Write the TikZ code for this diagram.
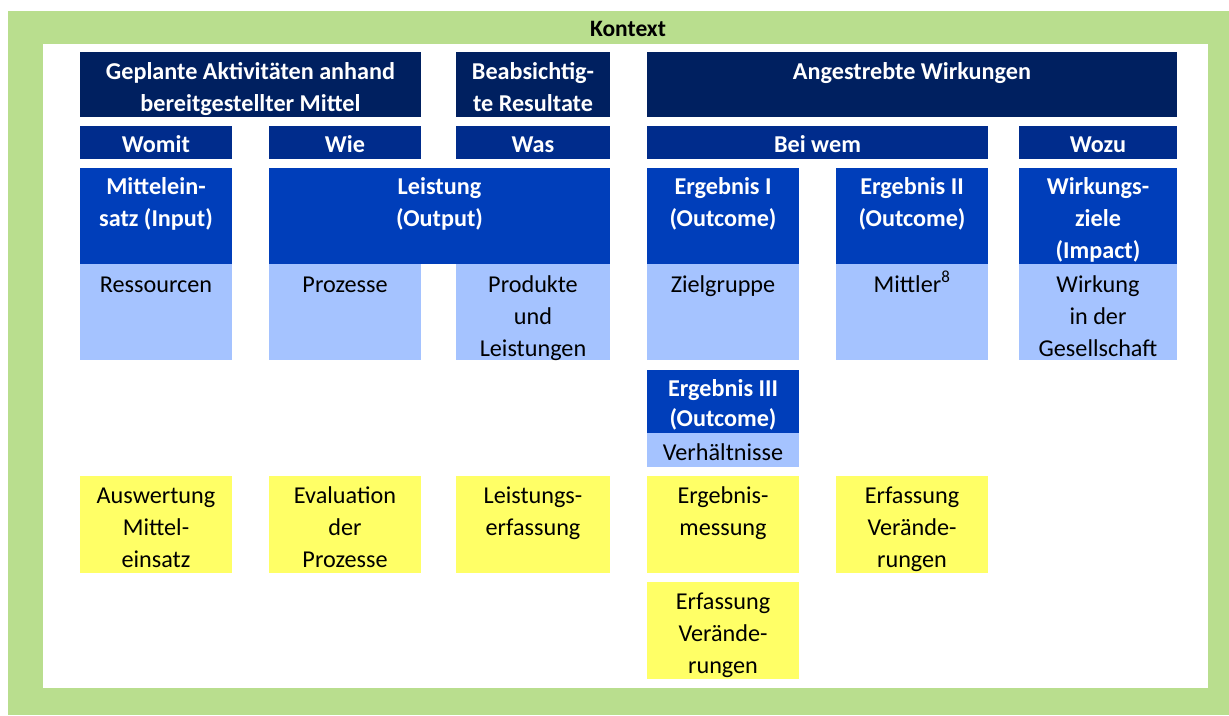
\documentclass[tikz,border=0pt]{standalone}
\usepackage{fontspec}
\setmainfont{Carlito}
\usepackage{tikz}
\usetikzlibrary{positioning}
\definecolor{kontext}{HTML}{B9DE8E}
\definecolor{navy}{HTML}{002060}
\definecolor{midblue}{HTML}{002C8C}
\definecolor{royal}{HTML}{003EBA}
\definecolor{pale}{HTML}{A5C3FF}
\definecolor{lemon}{HTML}{FFFF66}

\begin{document}
\begin{tikzpicture}[x=1pt, y=-1pt,
  cell/.style={inner sep=0pt, outer sep=0pt, anchor=north west},
  head/.style={cell, fill=navy, minimum height=65pt},
  ask/.style={cell, fill=midblue, minimum height=33pt},
  stage/.style={cell, fill=royal, minimum height=96pt},
  field/.style={cell, fill=pale, minimum height=96pt},
  check/.style={cell, fill=lemon, minimum height=97pt},
  txt/.style={inner sep=0pt, anchor=base, font=\fontsize{24.2}{32}\selectfont,
    execute at begin node={\begin{minipage}[t]{340pt}\centering\leavevmode},
    execute at end node={\end{minipage}}},
  wtxt/.style={txt, text=white, font=\fontsize{24.2}{32}\selectfont\bfseries}]
\useasboundingbox (0,0) rectangle (1229,715);
% Rahmen
\fill[kontext] (8,11) rectangle (1229,715);
\fill[white] (43,44) rectangle (1208,688);
\node[txt, font=\fontsize{23.5}{32}\selectfont\bfseries] (kontext) at (628,36) {Kontext};

% obere Reihe
\node[head, minimum width=341pt] (plan) at (80,52) {};
\node[head, minimum width=154pt] (resultat) at (456,52) {};
\node[head, minimum width=530pt] (wirkung) at (647,52) {};
\node[wtxt] at ([yshift=-27pt]plan.north) {Geplante Aktivitäten anhand\\bereitgestellter Mittel};
\node[wtxt] at ([yshift=-27pt]resultat.north) {Beabsichtig-\\te Resultate};
\node[wtxt] at ([yshift=-27pt]wirkung.north) {Angestrebte Wirkungen};

% Fragen
\node[ask, minimum width=152pt] (womit) at (80,126) {};
\node[ask, minimum width=152pt] (wie) at (269,126) {};
\node[ask, minimum width=154pt] (was) at (456,126) {};
\node[ask, minimum width=341pt] (beiwem) at (647,126) {};
\node[ask, minimum width=158pt] (wozu) at (1019,126) {};
\node[wtxt] at ([yshift=-26pt]womit.north) {Womit};
\node[wtxt] at ([yshift=-26pt]wie.north) {Wie};
\node[wtxt] at ([yshift=-26pt]was.north) {Was};
\node[wtxt] at ([yshift=-26pt]beiwem.north) {Bei wem};
\node[wtxt] at ([yshift=-26pt]wozu.north) {Wozu};

% Stufen
\node[stage, minimum width=152pt] (input) at (80,168) {};
\node[stage, minimum width=341pt] (output) at (269,168) {};
\node[stage, minimum width=152pt] (ergI) at (647,168) {};
\node[stage, minimum width=152pt] (ergII) at (836,168) {};
\node[stage, minimum width=158pt] (impact) at (1019,168) {};
\node[wtxt] at ([yshift=-26pt]input.north) {Mittelein-\\satz (Input)};
\node[wtxt] at ([yshift=-26pt]output.north) {Leistung\\(Output)};
\node[wtxt] at ([yshift=-26pt]ergI.north) {Ergebnis I\\(Outcome)};
\node[wtxt] at ([yshift=-26pt]ergII.north) {Ergebnis II\\(Outcome)};
\node[wtxt] at ([yshift=-26pt]impact.north) {Wirkungs-\\ziele\\(Impact)};

% Gegenstand
\node[field, minimum width=152pt] (ressourcen) at (80,264) {};
\node[field, minimum width=152pt] (prozesse) at (269,264) {};
\node[field, minimum width=154pt] (produkte) at (456,264) {};
\node[field, minimum width=152pt] (zielgruppe) at (647,264) {};
\node[field, minimum width=152pt] (mittler) at (836,264) {};
\node[field, minimum width=158pt] (gesellschaft) at (1019,264) {};
\node[txt] at ([yshift=-28pt]ressourcen.north) {Ressourcen};
\node[txt] at ([yshift=-28pt]prozesse.north) {Prozesse};
\node[txt] at ([yshift=-28pt]produkte.north) {Produkte\\und\\Leistungen};
\node[txt] at ([yshift=-28pt]zielgruppe.north) {Zielgruppe};
\node[txt] at ([yshift=-28pt]mittler.north) {Mittler\textsuperscript{8}};
\node[txt] at ([yshift=-28pt]gesellschaft.north) {Wirkung\\in der\\Gesellschaft};

% Ergebnis III
\node[stage, minimum width=152pt, minimum height=63pt] (ergIII) at (647,370) {};
\node[field, minimum width=152pt, minimum height=34pt] (verhaeltnisse) at (647,433) {};
\node[wtxt, font=\fontsize{24.2}{30}\selectfont\bfseries] at ([yshift=-26pt]ergIII.north) {Ergebnis III\\(Outcome)};
\node[txt] at ([yshift=-27pt]verhaeltnisse.north) {Verhältnisse};

% Erhebung
\node[check, minimum width=152pt] (auswertung) at (80,476) {};
\node[check, minimum width=152pt] (evaluation) at (269,476) {};
\node[check, minimum width=154pt] (erfassung) at (456,476) {};
\node[check, minimum width=152pt] (messung) at (647,476) {};
\node[check, minimum width=152pt] (veraenderung) at (836,476) {};
\node[check, minimum width=152pt] (veraenderungIII) at (647,582) {};
\node[txt] at ([yshift=-27pt]auswertung.north) {Auswertung\\Mittel-\\einsatz};
\node[txt] at ([yshift=-27pt]evaluation.north) {Evaluation\\der\\Prozesse};
\node[txt] at ([yshift=-27pt]erfassung.north) {Leistungs-\\erfassung};
\node[txt] at ([yshift=-27pt]messung.north) {Ergebnis-\\messung};
\node[txt] at ([yshift=-27pt]veraenderung.north) {Erfassung\\Verände-\\rungen};
\node[txt] at ([yshift=-27pt]veraenderungIII.north) {Erfassung\\Verände-\\rungen};
\end{tikzpicture}
\end{document}
